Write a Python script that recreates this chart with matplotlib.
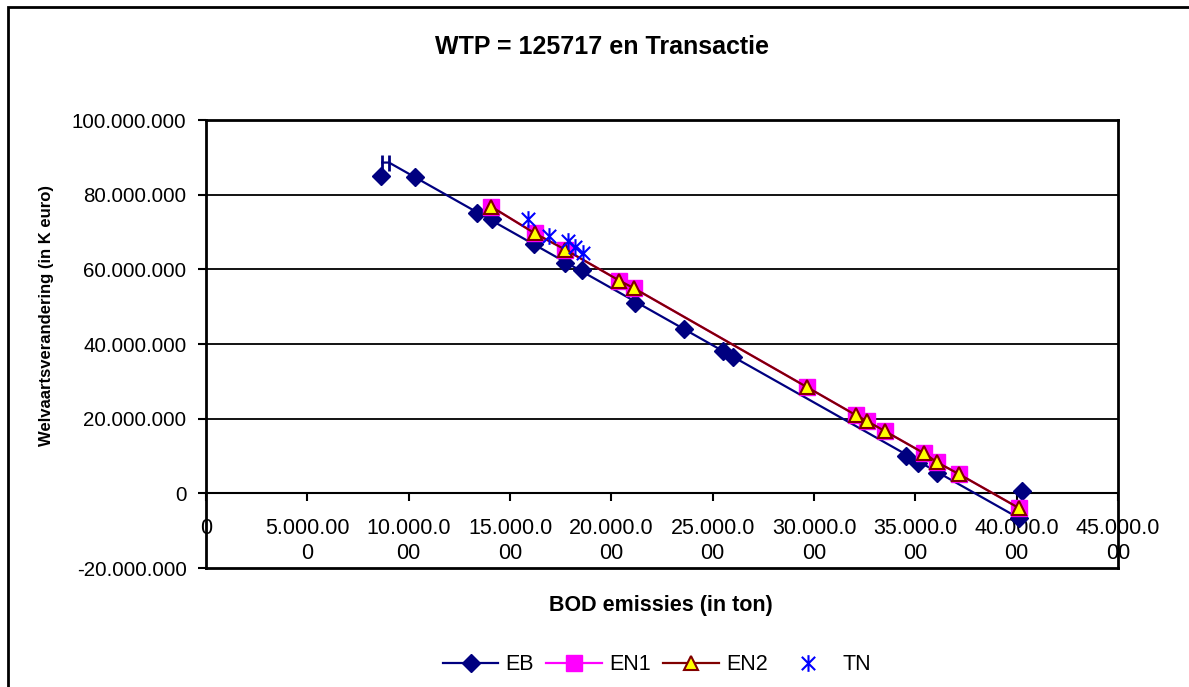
import matplotlib
matplotlib.use("Agg")
import matplotlib.pyplot as plt
from matplotlib.lines import Line2D
from matplotlib.path import Path
from matplotlib.patches import Rectangle

plt.rcParams['font.family'] = ['Liberation Sans', 'DejaVu Sans']

# ---- data ----
eb_x = [8.64e6, 10.32e6, 13.38e6, 14.12e6, 16.19e6, 17.72e6, 18.56e6, 21.18e6,
        23.59e6, 25.52e6, 26.01e6, 34.55e6, 35.15e6, 36.08e6, 40.28e6, 40.13e6]
eb_y = [85.1e6, 84.6e6, 75.2e6, 73.4e6, 66.7e6, 61.8e6, 59.7e6, 51.1e6,
        43.9e6, 38.0e6, 36.4e6, 9.9e6, 8.0e6, 5.4e6, 0.5e6, -6.7e6]
eb_line_x = [8.69e6, 9.03e6, 40.13e6]
eb_line_y = [88.6e6, 88.6e6, -6.7e6]

en1_x = [14.07e6, 16.24e6, 17.72e6, 20.39e6, 21.13e6, 29.67e6, 32.08e6,
         32.63e6, 33.52e6, 35.44e6, 36.08e6, 37.17e6, 40.13e6]
en1_y = [76.8e6, 69.6e6, 65.3e6, 57.0e6, 54.9e6, 28.4e6, 20.9e6,
         19.3e6, 16.6e6, 10.7e6, 8.3e6, 5.1e6, -4.0e6]
en2_x = list(en1_x)
en2_y = list(en1_y)

tn_x = [15.89e6, 16.93e6, 17.87e6, 18.21e6, 18.61e6]
tn_y = [73.4e6, 68.8e6, 67.5e6, 66.1e6, 64.5e6]

x_ticks = [0, 5e6, 10e6, 15e6, 20e6, 25e6, 30e6, 35e6, 40e6, 45e6]
x_tick_labels = ["0", "5.000.00\n0", "10.000.0\n00", "15.000.0\n00", "20.000.0\n00",
                 "25.000.0\n00", "30.000.0\n00", "35.000.0\n00", "40.000.0\n00", "45.000.0\n00"]
y_ticks = [-20e6, 0, 20e6, 40e6, 60e6, 80e6, 100e6]
y_tick_labels = ["-20.000.000", "0", "20.000.000", "40.000.000", "60.000.000",
                 "80.000.000", "100.000.000"]

title = "WTP = 125717 en Transactie"
xlabel = "BOD emissies (in ton)"
ylabel = "Welvaartsverandering (in K euro)"

# ---- styles ----
NAVY = "#000080"
MAG = "#FF00FF"
DRED = "#800000"
YEL = "#FFFF00"
BLUE = "#0000FF"

star = Path([(0, -1), (0, 1), (-0.8, -0.8), (0.8, 0.8), (-0.8, 0.8), (0.8, -0.8)],
            [Path.MOVETO, Path.LINETO, Path.MOVETO, Path.LINETO, Path.MOVETO, Path.LINETO])

W, H = 1189, 687
fig = plt.figure(figsize=(W / 100, H / 100), dpi=100)
ax = fig.add_axes([206 / W, 1 - 568 / H, (1118 - 206) / W, (568 - 120) / H])

ymin, ymax = -20e6, 100e6
ax.set_xlim(0, 45e6)
ax.set_ylim(ymin, ymax)

# gridlines
for yv in y_ticks[1:-1]:
    ax.axhline(yv, color="black", lw=1.3, zorder=1)

# EB
ax.plot(eb_line_x, eb_line_y, color=NAVY, lw=1.6, zorder=3,
        marker="|", markevery=[0, 1], markersize=11, markeredgewidth=2)
ax.plot(eb_x, eb_y, linestyle="none", marker="D", markersize=9,
        color=NAVY, zorder=4)
# EN1
ax.plot(en1_x, en1_y, color=MAG, lw=1.6, marker="s", markersize=11.5,
        markerfacecolor=MAG, markeredgecolor=MAG, zorder=5)
# EN2
ax.plot(en2_x, en2_y, color=DRED, lw=1.6, marker="^", markersize=10,
        markerfacecolor=YEL, markeredgecolor=DRED, markeredgewidth=1.5, zorder=6)
# TN
ax.plot(tn_x, tn_y, linestyle="none", marker=star, markersize=12,
        markerfacecolor="none", markeredgecolor=BLUE, markeredgewidth=1.5, zorder=7)

# frame
for s in ax.spines.values():
    s.set_linewidth(2)
    s.set_color("black")

# y axis
ax.set_yticks(y_ticks)
ax.set_yticklabels(y_tick_labels)
ax.tick_params(axis="y", direction="out", length=6, width=1.5, pad=8, labelsize=14.8)

# x axis at y=0
ax.set_xticks([])
frac0 = (0 - ymin) / (ymax - ymin)
sec = ax.secondary_xaxis(frac0)
sec.set_xticks(x_ticks)
sec.set_xticklabels(x_tick_labels)
sec.tick_params(axis="x", direction="out", length=6, width=1.5, pad=12, labelsize=15.5)
sec.spines["bottom"].set_linewidth(1.5)
for lab in sec.get_xticklabels():
    lab.set_linespacing(1.2)

fig.text(602 / W, 1 - 47 / H, title, ha="center", va="center",
         fontsize=18, fontweight="bold")
fig.text(661 / W, 1 - 606 / H, xlabel, ha="center", va="center",
         fontsize=15.5, fontweight="bold")
fig.text(47 / W, 1 - 316 / H, ylabel, ha="center", va="center", rotation=90,
         fontsize=12, fontweight="bold")

# legend
handles = [
    Line2D([], [], color=NAVY, lw=1.6, marker="D", markersize=9),
    Line2D([], [], color=MAG, lw=1.6, marker="s", markersize=11),
    Line2D([], [], color=DRED, lw=1.6, marker="^", markersize=10,
           markerfacecolor=YEL, markeredgecolor=DRED, markeredgewidth=1.5),
    Line2D([], [], linestyle="none", marker=star, markersize=12,
           markerfacecolor="none", markeredgecolor=BLUE, markeredgewidth=1.5),
]
fig.legend(handles, ["EB", "EN1", "EN2", "TN"], loc="center",
           bbox_to_anchor=(657 / W, 1 - 665 / H), ncol=4, frameon=False,
           fontsize=15.5, handlelength=2.6, handletextpad=0.3, columnspacing=0.6)

# outer chart border (cropped at right and bottom like the reference)
fig.patches.append(Rectangle((8 / W, -0.01), 1.02, 1 - 7 / H + 0.01, transform=fig.transFigure,
                             fill=False, edgecolor="black", lw=2))

fig.savefig("out.png", dpi=100)
